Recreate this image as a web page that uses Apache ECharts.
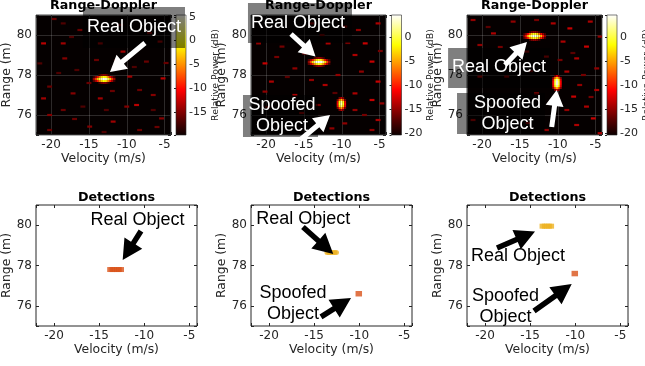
<!DOCTYPE html>
<html><head><meta charset="utf-8">
<script src="https://cdn.jsdelivr.net/npm/echarts@6/dist/echarts.min.js"></script>
<style>html,body{margin:0;padding:0;background:#fff}#c{width:645px;height:366px}</style>
</head><body><div id="c"></div>
<script>
// ================= DATA =================
const velocityExtent = [-22, -4.15];      // m/s
const rangeExtent = [75, 81];             // m
const velocityTicks = [-20, -15, -10, -5];
const rangeTicks = [76, 78, 80];
const topTitle = 'Range-Doppler';
const bottomTitle = 'Detections';

// colorbar ranges (dB) and their tick labels, one per Range-Doppler panel
const colorbarRanges = [[-19.9, 5.4], [-20.3, 4.65], [-20.3, 4.6]];
const colorbarTicks = [[5, 0, -5, -10, -15], [0, -5, -10, -15, -20], [0, -5, -10, -15, -20]];

// MATLAB "hot" colormap
const HOT = ['#0b0000', '#550000', '#aa0000', '#ff0000', '#ff5500', '#ffaa00', '#ffff00', '#ffff80', '#ffffff'];

// background noise speckles [velocity, range, dB]
const noise1 = [[-21.0,79.58,-13],[-18.4,79.58,-14],[-18.2,78.83,-15],[-13.5,79.58,-15],[-10.5,79.17,-14],[-7.4,78.67,-16],[-5.6,79.67,-15],[-5.2,77.83,-13],[-16.6,78.25,-17],[-20.2,77.42,-16],[-21.0,76.83,-14],[-17.1,77.08,-15],[-13.5,76.83,-14],[-9.6,77.92,-14],[-8.3,77.25,-16],[-6.5,77.0,-15],[-20.2,76.0,-15],[-18.4,76.25,-16],[-15.8,76.42,-17],[-11.8,75.67,-14],[-10.0,76.42,-15],[-8.7,76.5,-13],[-5.4,75.83,-15],[-20.2,75.25,-16],[-14.9,75.42,-15],[-8.3,75.25,-16],[-12.7,76.25,-17],[-16.2,80.25,-16],[-18.4,80.58,-17],[-21.5,78.58,-17],[-11.3,78.75,-16],[-6.5,76.25,-17],[-14.0,78.75,-16],[-19.6,80.8,-16],[-17.3,79.9,-17],[-15.0,77.6,-16],[-11.9,77.2,-16],[-7.0,80.1,-16],[-4.8,78.6,-16],[-16.9,75.8,-16],[-13.0,75.15,-17],[-9.0,78.4,-17],[-19.0,78.1,-17],[-6.0,75.4,-16],[-10.8,80.5,-17]];
const noise2 = [[-20.15,78.58,-13],[-16.2,78.33,-15],[-8.25,79.0,-14],[-6.9,79.58,-13],[-5.2,80.58,-14],[-7.8,80.25,-15],[-6.0,78.67,-13],[-19.3,77.67,-14],[-14.0,77.75,-15],[-10.5,78.0,-15],[-5.2,77.67,-13],[-20.15,77.17,-15],[-16.2,77.0,-14],[-8.25,77.08,-14],[-6.0,76.75,-13],[-8.25,76.25,-15],[-5.2,75.75,-14],[-9.6,75.58,-15],[-11.3,75.33,-15],[-21.0,79.58,-15],[-17.9,79.42,-16],[-11.8,79.58,-14],[-14.9,79.08,-16],[-12.2,77.5,-14],[-7.4,78.17,-15],[-4.7,76.58,-15],[-13.1,76.5,-16],[-9.6,80.42,-16],[-14.0,80.58,-16],[-6.0,75.25,-15],[-18.6,78.9,-16],[-15.3,76.1,-16],[-10.9,77.1,-17],[-4.9,79.2,-16],[-12.6,80.0,-17],[-17.2,77.9,-17],[-9.2,79.6,-16],[-19.8,76.4,-17],[-7.0,76.0,-16]];
const noise3 = [[-18.5,80.08,-14],[-15.9,80.67,-15],[-10.6,80.58,-14],[-8.4,80.33,-13],[-5.7,80.67,-14],[-9.3,79.67,-14],[-6.2,79.42,-13],[-20.3,79.5,-15],[-11.5,78.92,-15],[-7.5,78.83,-14],[-4.85,78.33,-15],[-8.8,78.17,-14],[-7.1,77.5,-15],[-4.85,77.25,-14],[-7.9,76.92,-13],[-12.8,77.08,-15],[-8.8,76.25,-15],[-5.3,75.83,-13],[-7.5,75.5,-14],[-11.5,75.25,-15],[-20.3,77.92,-15],[-16.75,77.92,-16],[-14.1,79.17,-16],[-4.4,79.92,-15],[-21.2,75.75,-15],[-21.2,80.75,-15],[-6.2,76.42,-14],[-9.7,78.75,-16],[-4.4,75.09,-14],[-12.8,80.75,-16],[-17.6,79.4,-16],[-13.6,78.2,-17],[-11.0,76.6,-16],[-6.6,78.0,-16],[-19.2,80.4,-17],[-8.0,79.1,-17],[-13.9,75.6,-16],[-5.6,76.9,-16]];

// target returns as small dB matrices (rows from top range bin down, columns along velocity)
const BIN_DV = 0.25, BIN_DR = 0.1;      // Doppler / range bin size of the returns
const NOISE_DV = 0.65, NOISE_DR = 0.11; // speckle cell size
const realBlob1 = { vStart: -14.375, rTop: 78.0, cells: [
  [null,null,null,-18,-16,-15,-15,-16,-18,null,null,null],
  [-18,-15,-11,-7,-3,-1,-1,-3,-7,-11,-15,-18],
  [-14,-9,-4,0,3,5,5,3,0,-4,-9,-14],
  [-17,-14,-10,-6,-3,-1,-1,-3,-6,-10,-14,-18],
  [null,null,null,-18,-16,-15,-15,-16,-18,null,null,null]]};
const realBlob2 = { vStart: -14.375, rTop: 78.85, cells: [
  [null,null,null,-18,-16,-15,-15,-16,-18,null,null,null],
  [-18,-15,-11,-7,-3,-1,-1,-3,-7,-11,-15,-18],
  [-15,-9,-3,1,4,4.5,4.5,4,1,-3,-9,-15],
  [-17,-14,-10,-6,-3,-1,-1,-3,-6,-10,-14,-18],
  [null,null,null,-18,-16,-15,-15,-16,-18,null,null,null]]};
const spoofBlob2 = { vStart: -10.55, rTop: 76.85, cells: [
  [null,-16,-13,-16,null],
  [-16,-8,-4,-8,-16],
  [-12,-2,2,-2,-12],
  [-11,-1,3,-1,-11],
  [-12,-3,1,-3,-12],
  [-16,-9,-5,-9,-16],
  [null,-16,-13,-16,null]]};
const realBlob3 = { vStart: -14.425, rTop: 80.15, cells: [
  [null,null,null,-18,-16,-15,-15,-16,-18,null,null,null],
  [-18,-15,-11,-7,-3,-1,-1,-3,-7,-11,-15,-18],
  [-15,-10,-4,0,2.5,4,4,2.5,0,-4,-10,-15],
  [-17,-14,-10,-6,-3,-1,-1,-3,-6,-10,-14,-18],
  [null,null,null,-18,-16,-15,-15,-16,-18,null,null,null]]};
const spoofBlob3 = { vStart: -10.6, rTop: 77.95, cells: [
  [null,-16,-12,-16,null],
  [-15,-7,-3,-7,-15],
  [-12,-1,3,-1,-12],
  [-11,0,4,0,-11],
  [-11,0,4,0,-11],
  [-12,-2,2,-2,-12],
  [-15,-8,-4,-8,-15],
  [null,-16,-13,-16,null]]};

// detections [velocity, range]
const realDet4 = [[-13.8,77.8],[-13.55,77.8],[-13.3,77.8],[-13.05,77.8],[-12.8,77.8],[-12.55,77.8]];
const realDet5 = [[-13.55,78.65],[-13.35,78.65],[-13.15,78.65],[-12.95,78.65],[-12.75,78.65],[-12.55,78.65]];
const spoofDet5 = [[-10.05,76.6]];
const realDet6 = [[-13.65,79.95],[-13.4,79.95],[-13.15,79.95],[-12.9,79.95],[-12.65,79.95]];
const spoofDet6 = [[-10.05,77.6]];

// annotations, in data units, per panel (top 3, then bottom 3)
const labelTexts = [
  [[-9.04, 80.4, 'Real Object']],
  [[-15.79, 80.6, 'Real Object'], [-17.9, 75.98, 'Spoofed\nObject']],
  [[-17.77, 78.42, 'Real Object'], [-16.64, 76.05, 'Spoofed\nObject']],
  [[-10.75, 80.26, 'Real Object']],
  [[-16.2, 80.31, 'Real Object'], [-17.34, 76.09, 'Spoofed\nObject']],
  [[-16.35, 78.47, 'Real Object'], [-17.73, 75.99, 'Spoofed\nObject']]
];
const labelBoxes = [
  [[-15.79, 81.4, -2.30, 79.35]],
  [[-22.4, 81.6, -8.65, 79.6], [-23.06, 77.0, -13.14, 74.9]],
  [[-24.5, 79.35, -11.0, 77.35], [-23.32, 77.1, -11.69, 75.05]],
  [], [], []
];
const arrows = [ // [tailV, tailR, tipV, tipR]
  [[-7.59, 79.6, -12.22, 78.15]],
  [[-16.71, 80.05, -13.47, 78.93], [-15.52, 74.75, -11.55, 76.0]],
  [[-16.98, 78.5, -14.07, 79.65], [-10.8, 75.4, -10.14, 77.25]],
  [[-10.36, 79.71, -12.39, 78.27]],
  [[-16.24, 79.91, -12.88, 78.57], [-14.24, 75.45, -10.91, 76.39]],
  [[-18.67, 78.87, -14.46, 79.68], [-14.57, 75.74, -10.39, 77.08]]
];

// ================= CHART =================
const AX = '#262626';
const FONT = '"DejaVu Sans", sans-serif';
const TICK_FS = 12, NAME_FS = 12.4;
const RED = '#D95319', YEL = '#EDB120';
const topLefts = [36, 251, 467], cbLefts = [176, 391.5, 607];

const grids = [], xAxes = [], yAxes = [], series = [], visualMaps = [];

function blobCells(b) {
  const out = [];
  b.cells.forEach((row, i) => row.forEach((val, j) => {
    if (val !== null) out.push([b.vStart + j * BIN_DV, b.rTop - i * BIN_DR, val]);
  }));
  return out;
}
function cellRenderer(dv, dr) {
  return function (params, api) {
    const v = api.value(0), r = api.value(1);
    const p = api.coord([v - dv / 2, r + dr / 2]);
    const s = api.size([dv, dr]);
    return { type: 'rect', shape: { x: p[0], y: p[1], width: s[0], height: s[1] }, style: { fill: api.visual('color') } };
  };
}
function arrowPoints(t, h, shaftW, headL, headW) {
  const dx = h[0] - t[0], dy = h[1] - t[1], L = Math.hypot(dx, dy);
  const ux = dx / L, uy = dy / L, nx = -uy, ny = ux;
  const bx = h[0] - ux * headL, by = h[1] - uy * headL;
  return [[t[0] + nx * shaftW / 2, t[1] + ny * shaftW / 2], [bx + nx * shaftW / 2, by + ny * shaftW / 2],
    [bx + nx * headW / 2, by + ny * headW / 2], [h[0], h[1]], [bx - nx * headW / 2, by - ny * headW / 2],
    [bx - nx * shaftW / 2, by - ny * shaftW / 2], [t[0] - nx * shaftW / 2, t[1] - ny * shaftW / 2]];
}
function annotationRenderer(p, colour, dims) {
  return function (params, api) {
    const children = [];
    labelBoxes[p].forEach(b => {
      const a = api.coord([b[0], b[1]]), c = api.coord([b[2], b[3]]);
      children.push({ type: 'rect', shape: { x: a[0], y: a[1], width: c[0] - a[0], height: c[1] - a[1] }, style: { fill: 'rgba(0,0,0,0.5)' } });
    });
    arrows[p].forEach(ar => {
      const t = api.coord([ar[0], ar[1]]), h = api.coord([ar[2], ar[3]]);
      children.push({ type: 'polygon', shape: { points: arrowPoints(t, h, dims[0], dims[1], dims[2]) }, style: { fill: colour } });
    });
    labelTexts[p].forEach(l => {
      const c = api.coord([l[0], l[1]]);
      children.push({ type: 'text', x: c[0], y: c[1], style: { text: l[2], fill: colour, font: '18px "Liberation Sans", Arial, sans-serif', align: 'center', verticalAlign: 'middle', lineHeight: 21 } });
    });
    return { type: 'group', children };
  };
}

function addPlot(gi, left, top, width, height, dark, title) {
  grids.push({ left, top, width, height, show: true, containLabel: false, outerBoundsMode: 'none',
    backgroundColor: dark ? '#050000' : '#ffffff', borderColor: dark ? '#4a4a4a' : AX, borderWidth: 1 });
  const tick = { inside: true, length: 3, lineStyle: { color: AX } };
  xAxes.push({ gridIndex: gi, type: 'value', min: velocityExtent[0], max: velocityExtent[1], splitNumber: 4, position: 'bottom',
    axisLine: { show: false }, axisTick: tick,
    axisLabel: { margin: 4, color: AX, fontSize: TICK_FS, fontFamily: FONT, formatter: v => velocityTicks.includes(v) ? String(v) : '' },
    splitLine: { show: dark, lineStyle: { color: 'rgba(255,255,255,0.16)', width: 1 } },
    name: 'Velocity (m/s)', nameLocation: 'middle', nameGap: 18, nameTextStyle: { color: AX, fontSize: NAME_FS, fontFamily: FONT } });
  xAxes.push({ gridIndex: gi, type: 'value', min: velocityExtent[0], max: velocityExtent[1], splitNumber: 4, position: 'top',
    axisLine: { show: false }, axisTick: tick, axisLabel: { show: false }, splitLine: { show: false },
    name: title, nameLocation: 'middle', nameGap: dark ? 3 : 1,
    nameTextStyle: { color: '#000', fontWeight: 'bold', fontSize: 12.7, fontFamily: FONT } });
  yAxes.push({ gridIndex: gi, type: 'value', min: rangeExtent[0], max: rangeExtent[1], splitNumber: 3, position: 'left',
    axisLine: { show: false }, axisTick: tick,
    axisLabel: { margin: 4, color: AX, fontSize: TICK_FS, fontFamily: FONT, formatter: v => rangeTicks.includes(v) ? String(v) : '' },
    splitLine: { show: dark, lineStyle: { color: 'rgba(255,255,255,0.16)', width: 1 } },
    name: 'Range (m)', nameLocation: 'middle', nameGap: 18, nameTextStyle: { color: AX, fontSize: NAME_FS, fontFamily: FONT } });
  yAxes.push({ gridIndex: gi, type: 'value', min: rangeExtent[0], max: rangeExtent[1], splitNumber: 3, position: 'right',
    axisLine: { show: false }, axisTick: tick, axisLabel: { show: false }, splitLine: { show: false } });
}

// six plots
for (let p = 0; p < 3; p++) addPlot(p, topLefts[p], 15, 135, 120, true, topTitle);
for (let p = 0; p < 3; p++) addPlot(3 + p, topLefts[p], 205, 161, 121, false, bottomTitle);

// colorbars
for (let p = 0; p < 3; p++) {
  const gi = 6 + p, rg = colorbarRanges[p], ticks = colorbarTicks[p];
  grids.push({ left: cbLefts[p], top: 15, width: 10, height: 120, show: true, containLabel: false, outerBoundsMode: 'none',
    backgroundColor: new echarts.graphic.LinearGradient(0, 1, 0, 0, HOT.map((c, k) => ({ offset: k / (HOT.length - 1), color: c }))),
    borderColor: AX, borderWidth: 0.6 });
  xAxes.push({ gridIndex: gi, type: 'value', show: false });
  yAxes.push({ gridIndex: gi, type: 'value', min: rg[0], max: rg[1], splitNumber: 5, position: 'right',
    axisLine: { show: false }, axisTick: { show: true, inside: true, length: 2, lineStyle: { color: AX } },
    axisLabel: { margin: 3, color: AX, fontSize: 11, fontFamily: FONT, formatter: v => ticks.includes(v) ? String(v) : '' },
    splitLine: { show: false },
    name: 'Relative Power (dB)', nameLocation: 'middle', nameRotate: 90, nameGap: 23,
    nameTextStyle: { color: AX, fontSize: 9.4, fontFamily: FONT } });
}

// Range-Doppler maps
const noiseSets = [noise1, noise2, noise3];
const blobSets = [[realBlob1], [realBlob2, spoofBlob2], [realBlob3, spoofBlob3]];
for (let p = 0; p < 3; p++) {
  const first = series.length;
  series.push({ type: 'custom', xAxisIndex: 2 * p, yAxisIndex: 2 * p, clip: true, silent: true, z: 2,
    encode: { x: 0, y: 1 }, data: noiseSets[p], renderItem: cellRenderer(NOISE_DV, NOISE_DR) });
  series.push({ type: 'custom', xAxisIndex: 2 * p, yAxisIndex: 2 * p, clip: true, silent: true, z: 3,
    encode: { x: 0, y: 1 }, data: blobSets[p].flatMap(blobCells), renderItem: cellRenderer(BIN_DV, BIN_DR) });
  visualMaps.push({ type: 'continuous', show: false, seriesIndex: [first, first + 1], dimension: 2,
    min: colorbarRanges[p][0], max: colorbarRanges[p][1], inRange: { color: HOT } });
}

// detections
const detSets = [[[realDet4, RED, 'rect']], [[realDet5, YEL, 'circle'], [spoofDet5, RED, 'rect']], [[realDet6, YEL, 'rect'], [spoofDet6, RED, 'rect']]];
for (let p = 0; p < 3; p++) {
  const gi = 3 + p;
  detSets[p].forEach(([d, col, sym]) => {
    const single = d.length === 1;
    series.push({ type: 'scatter', xAxisIndex: 2 * gi, yAxisIndex: 2 * gi, data: d, silent: true, z: 3,
      symbol: sym, symbolSize: single ? [6.5, 5.5] : [5.5, 5], itemStyle: { color: col } });
  });
}

// annotations
for (let p = 0; p < 6; p++) {
  const dark = p < 3;
  series.push({ type: 'custom', xAxisIndex: 2 * p, yAxisIndex: 2 * p, clip: false, silent: true, z: 10,
    data: [[-13, 78]], renderItem: annotationRenderer(p, dark ? '#ffffff' : '#000000', dark ? [5, 16, 18] : [5.5, 20, 21]) });
}

const chart = echarts.init(document.getElementById('c'), null, { renderer: 'canvas' });
chart.setOption({ animation: false, backgroundColor: '#ffffff', grid: grids, xAxis: xAxes, yAxis: yAxes, visualMap: visualMaps, series });
</script></body></html>
